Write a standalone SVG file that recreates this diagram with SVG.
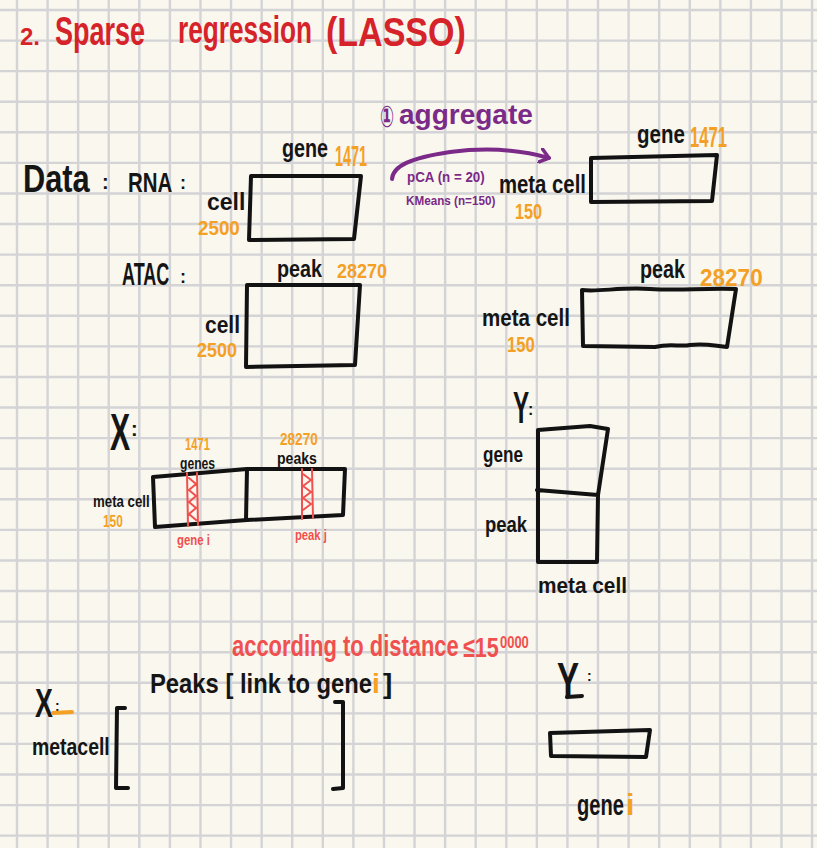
<svg xmlns="http://www.w3.org/2000/svg" width="817" height="848" viewBox="0 0 817 848">
  <style>
    .hw { font-family: "Liberation Sans", Arial, sans-serif; font-weight: bold; }
    .blk { fill: #151515; }
    .red { fill: #d6232a; }
    .pur { fill: #7b2a88; }
    .org { fill: #f4a024; }
    .cor { fill: #f0504e; }
    .box { fill: none; stroke: #121212; stroke-width: 4; stroke-linecap: round; stroke-linejoin: round; }
    .stripe { fill: none; stroke: #f0504e; stroke-width: 2; stroke-linecap: round; stroke-linejoin: round; }
    .grid { fill: none; stroke: #d4d4d6; stroke-width: 2.4; }
  </style>
  <defs>
    <marker id="arrowhead" viewBox="0 0 12 16" refX="10" refY="8" markerWidth="12" markerHeight="16" markerUnits="userSpaceOnUse" orient="auto">
      <path d="M1 1 L10 8 L1 15" fill="none" stroke="#7b2a88" stroke-width="3.5" stroke-linecap="round" stroke-linejoin="round"/>
    </marker>
  </defs>

  <!-- paper -->
  <rect width="817" height="848" fill="#f9f7ee"/>
  <path class="grid" d="M17 0V848 M47.58 0V848 M78.16 0V848 M108.74 0V848 M139.32 0V848 M169.9 0V848 M200.48 0V848 M231.06 0V848 M261.64 0V848 M292.22 0V848 M322.8 0V848 M353.38 0V848 M383.96 0V848 M414.54 0V848 M445.12 0V848 M475.7 0V848 M506.28 0V848 M536.86 0V848 M567.44 0V848 M598.02 0V848 M628.6 0V848 M659.18 0V848 M689.76 0V848 M720.34 0V848 M750.92 0V848 M781.5 0V848 M812.08 0V848
    M0 10H817 M0 40.58H817 M0 71.16H817 M0 101.74H817 M0 132.32H817 M0 162.9H817 M0 193.48H817 M0 224.06H817 M0 254.64H817 M0 285.22H817 M0 315.8H817 M0 346.38H817 M0 376.96H817 M0 407.54H817 M0 438.12H817 M0 468.7H817 M0 499.28H817 M0 529.86H817 M0 560.44H817 M0 591.02H817 M0 621.6H817 M0 652.18H817 M0 682.76H817 M0 713.34H817 M0 743.92H817 M0 774.5H817 M0 805.08H817 M0 835.66H817"/>

  <!-- heading (narrow hand lettering via horizontal scale) -->
  <g id="title" class="hw red">
    <text font-size="24" transform="translate(20 45)">2.</text>
    <text font-size="40" transform="translate(55 45) scale(0.675 1)">Sparse</text>
    <text font-size="38" transform="translate(178 43) scale(0.69 1)">regression</text>
    <text font-size="41" transform="translate(326 46) scale(0.83 1)">(LASSO)</text>
  </g>

  <!-- step label -->
  <g id="aggregate-step" class="hw pur">
    <text font-size="30" font-family="DejaVu Sans, sans-serif" transform="translate(380 127) scale(0.55 1)">①</text>
    <text font-size="28" transform="translate(399 124)">aggregate</text>
    <text font-size="15" transform="translate(407 182) scale(0.89 1)">pCA (n = 20)</text>
    <text font-size="13" transform="translate(406 205) scale(0.9 1)">KMeans (n=150)</text>
  </g>

  <!-- raw data -->
  <g id="data-label" class="hw blk">
    <text font-size="39" transform="translate(23 192) scale(0.79 1)">Data</text>
    <text font-size="20" transform="translate(102 189)">:</text>
  </g>

  <g id="rna-matrix">
    <text class="hw blk" font-size="28" transform="translate(128 192) scale(0.73 1)">RNA</text>
    <text class="hw blk" font-size="18" transform="translate(180 189)">:</text>
    <text class="hw blk" font-size="25" transform="translate(282 157) scale(0.79 1)">gene</text>
    <text class="hw org" font-size="30" transform="translate(335 166) scale(0.48 1)">1471</text>
    <text class="hw blk" font-size="23" transform="translate(207 210)">cell</text>
    <text class="hw org" font-size="20" transform="translate(198 235) scale(0.94 1)">2500</text>
    <path class="box" d="M251 176 L361 176 L354 239 L249 240 Z"/>
  </g>

  <g id="atac-matrix">
    <text class="hw blk" font-size="31" transform="translate(122 285) scale(0.58 1)">ATAC</text>
    <text class="hw blk" font-size="18" transform="translate(180 283)">:</text>
    <text class="hw blk" font-size="23" transform="translate(277 277) scale(0.86 1)">peak</text>
    <text class="hw org" font-size="20" transform="translate(337 278) scale(0.9 1)">28270</text>
    <text class="hw blk" font-size="24" transform="translate(205 333) scale(0.875 1)">cell</text>
    <text class="hw org" font-size="20" transform="translate(197 357) scale(0.9 1)">2500</text>
    <path class="box" d="M247 285 L360 285 L355 365 L246 367 Z"/>
  </g>

  <!-- aggregated data -->
  <g id="meta-rna-matrix">
    <text class="hw blk" font-size="25" transform="translate(637 143) scale(0.82 1)">gene</text>
    <text class="hw org" font-size="30" transform="translate(690 147) scale(0.555 1)">1471</text>
    <text class="hw blk" font-size="25" transform="translate(499 193) scale(0.813 1)">meta cell</text>
    <text class="hw org" font-size="22" transform="translate(515 219) scale(0.74 1)">150</text>
    <path class="box" d="M591 158 L717 155 L712 201 L591 202 Z"/>
  </g>

  <g id="meta-atac-matrix">
    <text class="hw blk" font-size="25" transform="translate(640 278) scale(0.79 1)">peak</text>
    <text class="hw org" font-size="24" transform="translate(700 286) scale(0.94 1)">28270</text>
    <text class="hw blk" font-size="24" transform="translate(482 326) scale(0.857 1)">meta cell</text>
    <text class="hw org" font-size="22" transform="translate(507 352) scale(0.76 1)">150</text>
    <path class="box" d="M582 290 C600 292 620 287 650 289 S700 288 736 289 L727 347 C715 346 705 343 690 345 C680 347 670 343 655 347 L583 346 Z"/>
  </g>

  <!-- design matrix X -->
  <g id="x-matrix">
    <text class="hw blk" font-size="52" transform="translate(110 450) scale(0.58 1)">X</text>
    <text class="hw blk" font-size="20" transform="translate(131 436)">:</text>
    <text class="hw org" font-size="17" transform="translate(185 450) scale(0.66 1)">1471</text>
    <text class="hw blk" font-size="16" transform="translate(180 469) scale(0.76 1)">genes</text>
    <text class="hw org" font-size="17" transform="translate(280 445) scale(0.8 1)">28270</text>
    <text class="hw blk" font-size="16" transform="translate(277 464) scale(0.88 1)">peaks</text>
    <text class="hw blk" font-size="17" transform="translate(93 507) scale(0.78 1)">meta cell</text>
    <text class="hw org" font-size="17" transform="translate(103 527) scale(0.7 1)">150</text>
    <path class="box" d="M153 477 L247 469 L345 469 L343 515 L247 520 L155 527 Z M247 469 L246 520"/>
    <path class="stripe" d="M187 473 L188 526 M197 473 L198 525 M189 478 L196 484 L189 490 L196 496 L189 502 L196 508 L189 514 L196 520"/>
    <path class="stripe" d="M302 469 L302 519 M312 469 L313 518 M303 474 L311 480 L303 486 L311 492 L303 498 L311 504 L303 510"/>
    <text class="hw cor" font-size="15" transform="translate(177 545) scale(0.76 1)">gene i</text>
    <text class="hw cor" font-size="15" transform="translate(295 540) scale(0.75 1)">peak j</text>
  </g>

  <!-- response matrix Y -->
  <g id="y-matrix">
    <text class="hw blk" font-size="44" transform="translate(513 423) scale(0.55 1)">Y</text>
    <text class="hw blk" font-size="16" transform="translate(528 415)">:</text>
    <text class="hw blk" font-size="22" transform="translate(483 462) scale(0.78 1)">gene</text>
    <text class="hw blk" font-size="22" transform="translate(485 532) scale(0.84 1)">peak</text>
    <text class="hw blk" font-size="22" transform="translate(538 593) scale(0.945 1)">meta cell</text>
    <path class="box" d="M538 430 L590 426 L608 429 L598 495 L597 562 L538 562 Z M537 490 L598 495"/>
  </g>

  <!-- per-gene regression -->
  <g id="link-note" class="hw cor">
    <text font-size="29" transform="translate(232 656) scale(0.757 1)">according to distance</text>
    <text font-size="28" transform="translate(463 657) scale(0.77 1)">≤15</text>
    <text font-size="16" transform="translate(500 648) scale(0.81 1)">0000</text>
  </g>

  <g id="x-gene-matrix">
    <text class="hw blk" font-size="28" transform="translate(150 693) scale(0.85 1)">Peaks [ link to gene</text>
    <text class="hw org" font-size="28" transform="translate(372 693)">i</text>
    <text class="hw blk" font-size="28" transform="translate(383 693)">]</text>
    <text class="hw blk" font-size="40" transform="translate(35 717) scale(0.67 1)">X</text>
    <text class="hw blk" font-size="14" transform="translate(55 711)">:</text>
    <path d="M53 713 L72 712" fill="none" stroke="#f4a024" stroke-width="4" stroke-linecap="round"/>
    <text class="hw blk" font-size="24" transform="translate(32 755) scale(0.81 1)">metacell</text>
    <path class="box" d="M125 708 L117 708 L116 788 L128 788 M335 702 L343 702 L343 788 L333 789"/>
  </g>

  <g id="y-gene-vector">
    <text class="hw blk" font-size="50" transform="translate(557 698) scale(0.66 1)">Y</text>
    <text class="hw blk" font-size="14" transform="translate(587 681)">:</text>
    <path d="M567 697 L582 696" fill="none" stroke="#151515" stroke-width="4" stroke-linecap="round"/>
    <path class="box" stroke-width="5" d="M550 733 L650 730 L646 757 L551 756 Z"/>
    <text class="hw blk" font-size="30" transform="translate(577 815) scale(0.67 1)">gene</text>
    <text class="hw org" font-size="30" transform="translate(626 815)">i</text>
  </g>

  <!-- connectors -->
  <g id="connectors">
    <path d="M392 179 C393 166 410 158 450 152 C490 147 525 151 549 158" fill="none" stroke="#7b2a88" stroke-width="4" stroke-linecap="round" marker-end="url(#arrowhead)"/>
  </g>
</svg>
